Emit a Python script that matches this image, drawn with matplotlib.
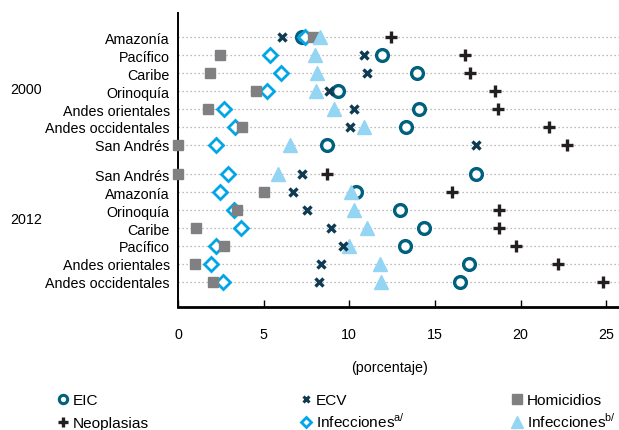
import numpy as np
import matplotlib
matplotlib.use("Agg")
import matplotlib.pyplot as plt
from matplotlib.lines import Line2D

plt.rcParams['font.family'] = ['Liberation Sans', 'DejaVu Sans']
plt.rcParams['mathtext.fontset'] = 'custom'
plt.rcParams['mathtext.rm'] = 'Liberation Sans'

# Regions for each year (top to bottom)
rows_2000 = ["Amazonía", "Pacífico", "Caribe", "Orinoquía", "Andes orientales",
             "Andes occidentales", "San Andrés"]
rows_2012 = ["San Andrés", "Amazonía", "Orinoquía", "Caribe", "Pacífico",
             "Andes orientales", "Andes occidentales"]

# Percentages, 2000 rows first then 2012 rows
eic = [7.25, 11.9, 13.95, 9.34, 14.07, 13.33, 8.7,
       17.38, 10.41, 12.98, 14.36, 13.23, 16.99, 16.44]
ecv = [6.1, 10.86, 11.05, 8.8, 10.26, 10.02, 17.42,
       7.24, 6.71, 7.53, 8.95, 9.63, 8.37, 8.23]
homicidios = [7.88, 2.47, 1.85, 4.54, 1.77, 3.74, 0.0,
              0.0, 5.02, 3.47, 1.07, 2.67, 0.97, 2.04]
neoplasias = [12.45, 16.78, 17.03, 18.49, 18.68, 21.66, 22.73,
              8.7, 15.98, 18.72, 18.76, 19.75, 22.18, 24.81]
infecciones_a = [7.4, 5.39, 6.03, 5.2, 2.67, 3.33, 2.2,
                 2.92, 2.43, 3.27, 3.68, 2.2, 1.93, 2.63]
infecciones_b = [8.31, 7.98, 8.14, 8.08, 9.11, 10.84, 6.52,
                 5.84, 10.08, 10.27, 11.04, 9.98, 11.77, 11.83]

labels = rows_2000 + rows_2012
ypos = np.concatenate([np.arange(7), np.arange(7) + 7.64])

c_eic = "#00617f"
c_ecv = "#0e3a52"
c_hom = "#808083"
c_neo = "#231f20"
c_ia = "#00a6e6"
c_ib = "#94d5f4"
fs = 10.3

fig = plt.figure(figsize=(6.19, 4.31), dpi=100)
W, H = 619, 431
ax = fig.add_axes([178 / W, 1 - 307.5 / H, (619 - 178) / W, (307.5 - 14) / H])

# dotted guide line for every region
for y in ypos:
    ax.plot([0, 25.75], [y, y], color="#a8a8a8", lw=0.9, ls=(0, (1, 2.2)), zorder=1)

ax.plot(eic, ypos, ls="none", marker="o", ms=8.5, mfc="white", mec=c_eic, mew=2.4, zorder=3, clip_on=False)
ax.plot(infecciones_a, ypos, ls="none", marker="D", ms=6.8, mfc="white", mec=c_ia, mew=2.0, zorder=4, clip_on=False)
ax.plot(homicidios, ypos, ls="none", marker="s", ms=7.5, color=c_hom, zorder=5, clip_on=False)
ax.plot(infecciones_b, ypos, ls="none", marker="^", ms=10, color=c_ib, zorder=6, clip_on=False)
ax.plot(ecv, ypos, ls="none", marker="x", ms=5.5, mew=2.4, color=c_ecv, zorder=7, clip_on=False)
ax.plot(neoplasias, ypos, ls="none", marker="+", ms=8, mew=2.4, color=c_neo, zorder=8, clip_on=False)

ax.set_xlim(0, 25.75)
ax.set_ylim(ypos[-1] + 1.38, -1.36)
ax.set_xticks([0, 5, 10, 15, 20, 25])
ax.set_yticks(ypos)
ax.set_yticklabels(labels, fontsize=fs)
ax.tick_params(axis="y", length=0, pad=6)
ax.tick_params(axis="x", direction="in", length=5, width=1, labelsize=fs, pad=15)
for s in ["top", "right"]:
    ax.spines[s].set_visible(False)
ax.spines["left"].set_linewidth(1.4)
ax.spines["bottom"].set_linewidth(2)

fig.text(10 / W, 1 - 90 / H, "2000", fontsize=fs, va="center", ha="left")
fig.text(10 / W, 1 - 220 / H, "2012", fontsize=fs, va="center", ha="left")
fig.text(390 / W, 1 - 368 / H, "(porcentaje)", fontsize=fs, va="center", ha="center")

# legend drawn by hand: marker + label in three columns, two rows
legend_items = [
    (63, 400, dict(marker="o", ms=6, mfc="white", mec=c_eic, mew=2.2), "EIC"),
    (63, 423, dict(marker="+", ms=6.5, mew=2.4, color=c_neo), "Neoplasias"),
    (306, 400, dict(marker="x", ms=4.5, mew=2.2, color=c_ecv), "ECV"),
    (306, 423, dict(marker="D", ms=5.5, mfc="white", mec=c_ia, mew=2.0), "Infecciones$^{\\mathrm{a/}}$"),
    (517, 400, dict(marker="s", ms=6.5, color=c_hom), "Homicidios"),
    (517, 423, dict(marker="^", ms=8.5, color=c_ib), "Infecciones$^{\\mathrm{b/}}$"),
]
for mx, my, style, text in legend_items:
    fig.add_artist(Line2D([mx / W], [1 - my / H], ls="none", transform=fig.transFigure, **style))
    fig.text((mx + 10) / W, 1 - (my + 5) / H, text, fontsize=fs + 0.8, va="baseline", ha="left")

fig.savefig("out.png", dpi=100)
